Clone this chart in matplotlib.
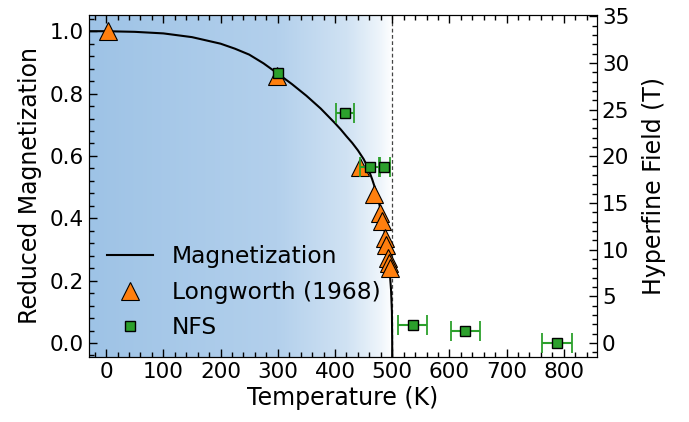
import numpy as np
import matplotlib
matplotlib.use("Agg")
import matplotlib.pyplot as plt
from matplotlib.colors import LinearSegmentedColormap
from matplotlib.ticker import AutoMinorLocator, MultipleLocator

# ---- data ----
curve_T = [-30, 0, 50, 100, 150, 200, 225, 250, 275, 300, 325, 350, 375, 400, 410,
           420, 430, 440, 450, 455, 460, 465, 470, 475, 480, 485, 490, 495, 498,
           499.5, 500, 500]
curve_M = [1.0, 1.0, 0.998, 0.993, 0.981, 0.960, 0.944, 0.925, 0.897, 0.864, 0.830,
           0.793, 0.752, 0.705, 0.685, 0.663, 0.642, 0.618, 0.590, 0.572, 0.550,
           0.525, 0.497, 0.465, 0.425, 0.378, 0.32, 0.245, 0.17, 0.10, 0.0, -0.06]

long_T = [4, 299, 444, 468, 479, 483, 488, 490, 493, 495, 496]
long_M = [1.0, 0.855, 0.565, 0.478, 0.417, 0.39, 0.337, 0.315, 0.273, 0.257, 0.24]

nfs_T = [300, 418, 461, 486, 536, 628, 788]
nfs_B = [28.9, 24.6, 18.8, 18.9, 1.9, 1.3, 0.0]
nfs_Terr = [np.nan, 16, 17, 9.5, 25, 25, 27]

Tc = 500
xlim = (-30, 858)
ylim_left = (-0.045, 1.052)
field_scale = 33.4

fig = plt.figure(figsize=(6.89, 4.22), dpi=100)
ax = fig.add_axes([89/689, (422-357)/422, (597-89)/689, (357-15)/422])

# gradient background
cmap = LinearSegmentedColormap.from_list(
    "bg", [(0.0, "#9ec3e6"), (0.62, "#b3d0ec"), (0.85, "#d0e2f3"),
           (0.96, "#eef5fb"), (1.0, "#ffffff")])
grad = np.linspace(0, 1, 512).reshape(1, -1)
ax.imshow(grad, cmap=cmap, aspect="auto", extent=[xlim[0], Tc, ylim_left[0], ylim_left[1]],
          zorder=0, interpolation="bilinear")

ax.axvline(Tc, color="#444444", lw=0.9, ls=(0, (3, 2)), zorder=1)
line, = ax.plot(curve_T, curve_M, color="black", lw=1.5, zorder=2, label="Magnetization")
tri, = ax.plot(long_T, long_M, ls="none", marker="^", ms=13.5, mfc="#ff7f0e",
               mec="black", mew=0.8, zorder=3, label="Longworth (1968)")

ax.set_xlim(*xlim)
ax.set_ylim(*ylim_left)

ax2 = ax.twinx()
ax2.set_ylim(ylim_left[0]*field_scale, ylim_left[1]*field_scale)
ax2.errorbar(nfs_T, nfs_B, xerr=nfs_Terr, fmt="none", ecolor="#2ca02c", elinewidth=1.5,
             capsize=7, capthick=1.3, zorder=4)
sq, = ax2.plot(nfs_T, nfs_B, ls="none", marker="s", ms=7, mfc="#2ca02c", mec="black",
               mew=1.0, zorder=5, label="NFS")

ax.set_xlabel("Temperature (K)", fontsize=17, labelpad=3)
ax.set_ylabel("Reduced Magnetization", fontsize=17, labelpad=6)
ax2.set_ylabel("Hyperfine Field (T)", fontsize=17, labelpad=9)

ax.xaxis.set_major_locator(MultipleLocator(100))
ax.xaxis.set_minor_locator(AutoMinorLocator(5))
ax.yaxis.set_major_locator(MultipleLocator(0.2))
ax.yaxis.set_minor_locator(AutoMinorLocator(5))
ax2.yaxis.set_major_locator(MultipleLocator(5))
ax2.yaxis.set_minor_locator(AutoMinorLocator(5))

ax.tick_params(axis="both", which="both", direction="in", labelsize=15.5)
ax.tick_params(axis="x", which="both", top=True)
ax.tick_params(which="major", length=6, width=1)
ax.tick_params(which="minor", length=3.5, width=1)
ax2.tick_params(which="both", direction="in", labelsize=15.5)
ax2.tick_params(which="major", length=6, width=1)
ax2.tick_params(which="minor", length=3.5, width=1)

ax.legend([line, tri, sq], ["Magnetization", "Longworth (1968)", "NFS"],
          loc="lower left", frameon=False, fontsize=16.8, numpoints=1,
          labelspacing=0.55, borderaxespad=0.35)

fig.savefig("out.png", dpi=100)
